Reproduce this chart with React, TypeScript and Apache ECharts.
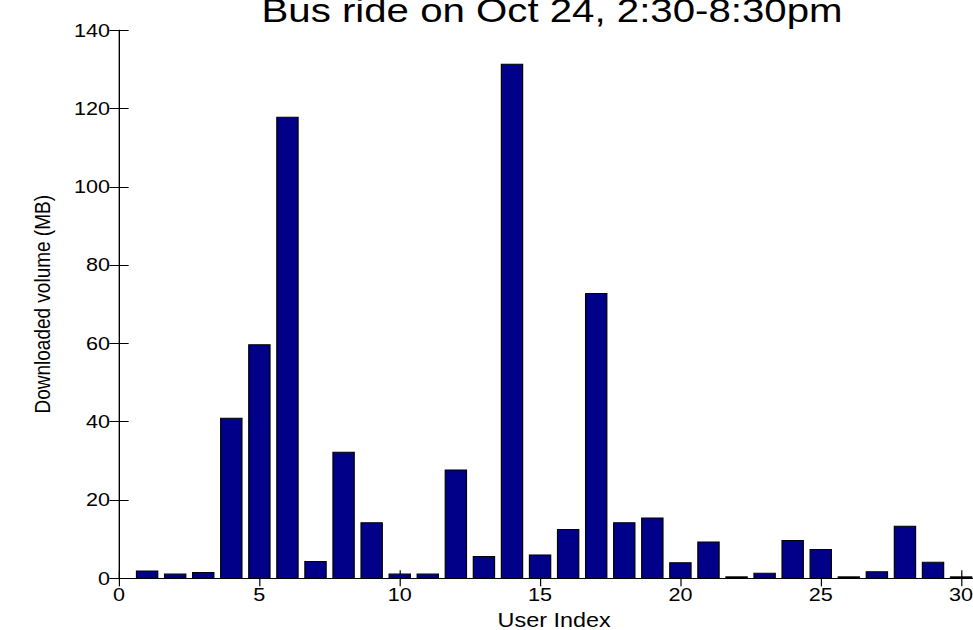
import React, { useEffect, useRef } from "react";
import * as echarts from "echarts";

const users = [1, 2, 3, 4, 5, 6, 7, 8, 9, 10, 11, 12, 13, 14, 15, 16, 17, 18, 19, 20, 21, 22, 23, 24, 25, 26, 27, 28, 29, 30];
const volumes = [2.0, 1.2, 1.6, 41.0, 59.8, 117.9, 4.4, 32.3, 14.3, 1.2, 1.2, 27.8, 5.7, 131.4, 6.1, 12.6, 72.9, 14.3, 15.5, 4.1, 9.4, 0.5, 1.4, 9.8, 7.5, 0.5, 1.8, 13.4, 4.2, 0.5];
const yTicks = { min: 0, max: 140, interval: 20 };
const xTicks = { min: 0, max: 31, interval: 5 };
const titleText = "Bus ride on Oct 24, 2:30-8:30pm";
const xName = "User Index";
const yName = "Downloaded volume (MB)";

const STRETCH = 1.2;
const FONT = "'Liberation Sans', Arial, Helvetica, sans-serif";

export default function App() {
  const ref = useRef<HTMLDivElement>(null);
  useEffect(() => {
    if (!ref.current) return;
    const chart = echarts.init(ref.current, undefined, { renderer: "svg" });
    const gridLeft = 99.2;
    const gridTop = 30.2;
    const gridBottom = 51.7;
    const plotWidth = 725.1;
    const unit = plotWidth / (xTicks.max - xTicks.min);
    const axisLine = { show: true, lineStyle: { color: "#000", width: 1 } };
    const tick = { show: true, inside: true, length: 8, lineStyle: { color: "#000" } };
    chart.setOption({
      animation: false,
      backgroundColor: "#fff",
      title: {
        text: titleText,
        left: 455,
        top: -11,
        textAlign: "center",
        textStyle: { fontFamily: FONT, fontSize: 33.5, fontWeight: "normal", color: "#000" },
      },
      grid: {
        left: gridLeft,
        top: gridTop,
        bottom: gridBottom,
        width: plotWidth,
        containLabel: false,
        outerBoundsMode: "none",
      },
      xAxis: [
        {
          type: "value",
          min: xTicks.min,
          max: xTicks.max,
          interval: xTicks.interval,
          position: "bottom",
          name: xName,
          nameLocation: "middle",
          nameGap: 32,
          nameTextStyle: { fontFamily: FONT, fontSize: 19.5, color: "#000" },
          axisLine,
          axisTick: tick,
          splitLine: { show: false },
          axisLabel: {
            fontFamily: FONT,
            fontSize: 18,
            color: "#000",
            margin: 7,
            showMaxLabel: false,
            formatter: (v: number) => (v % xTicks.interval === 0 ? String(v) : ""),
          },
        },
        {
          type: "value",
          min: xTicks.min,
          max: xTicks.max,
          interval: xTicks.interval,
          position: "top",
          axisLine,
          axisTick: tick,
          splitLine: { show: false },
          axisLabel: { show: false },
        },
      ],
      yAxis: [
        {
          type: "value",
          min: yTicks.min,
          max: yTicks.max,
          interval: yTicks.interval,
          position: "left",
          name: yName,
          nameLocation: "middle",
          nameGap: 55,
          nameTextStyle: { fontFamily: FONT, fontSize: 19, color: "#000" },
          axisLine,
          axisTick: tick,
          splitLine: { show: false },
          axisLabel: { fontFamily: FONT, fontSize: 18, color: "#000", margin: 7.5 },
        },
        {
          type: "value",
          min: yTicks.min,
          max: yTicks.max,
          interval: yTicks.interval,
          position: "right",
          axisLine,
          axisTick: tick,
          splitLine: { show: false },
          axisLabel: { show: false },
        },
      ],
      series: [
        {
          type: "bar",
          xAxisIndex: 0,
          yAxisIndex: 0,
          barWidth: unit * 0.8,
          data: users.map((u, i) => [u, volumes[i]]),
          itemStyle: { color: "#000088", borderColor: "#000", borderWidth: 1 },
        },
      ],
    });
    return () => chart.dispose();
  }, []);
  return (
    <div
      style={{
        position: "fixed",
        left: 0,
        top: 0,
        width: 973,
        height: 630,
        overflow: "hidden",
        background: "#fff",
      }}
    >
      <div
        ref={ref}
        style={{ width: 830, height: 630, transform: `scaleX(${STRETCH})`, transformOrigin: "0 0" }}
      />
    </div>
  );
}
